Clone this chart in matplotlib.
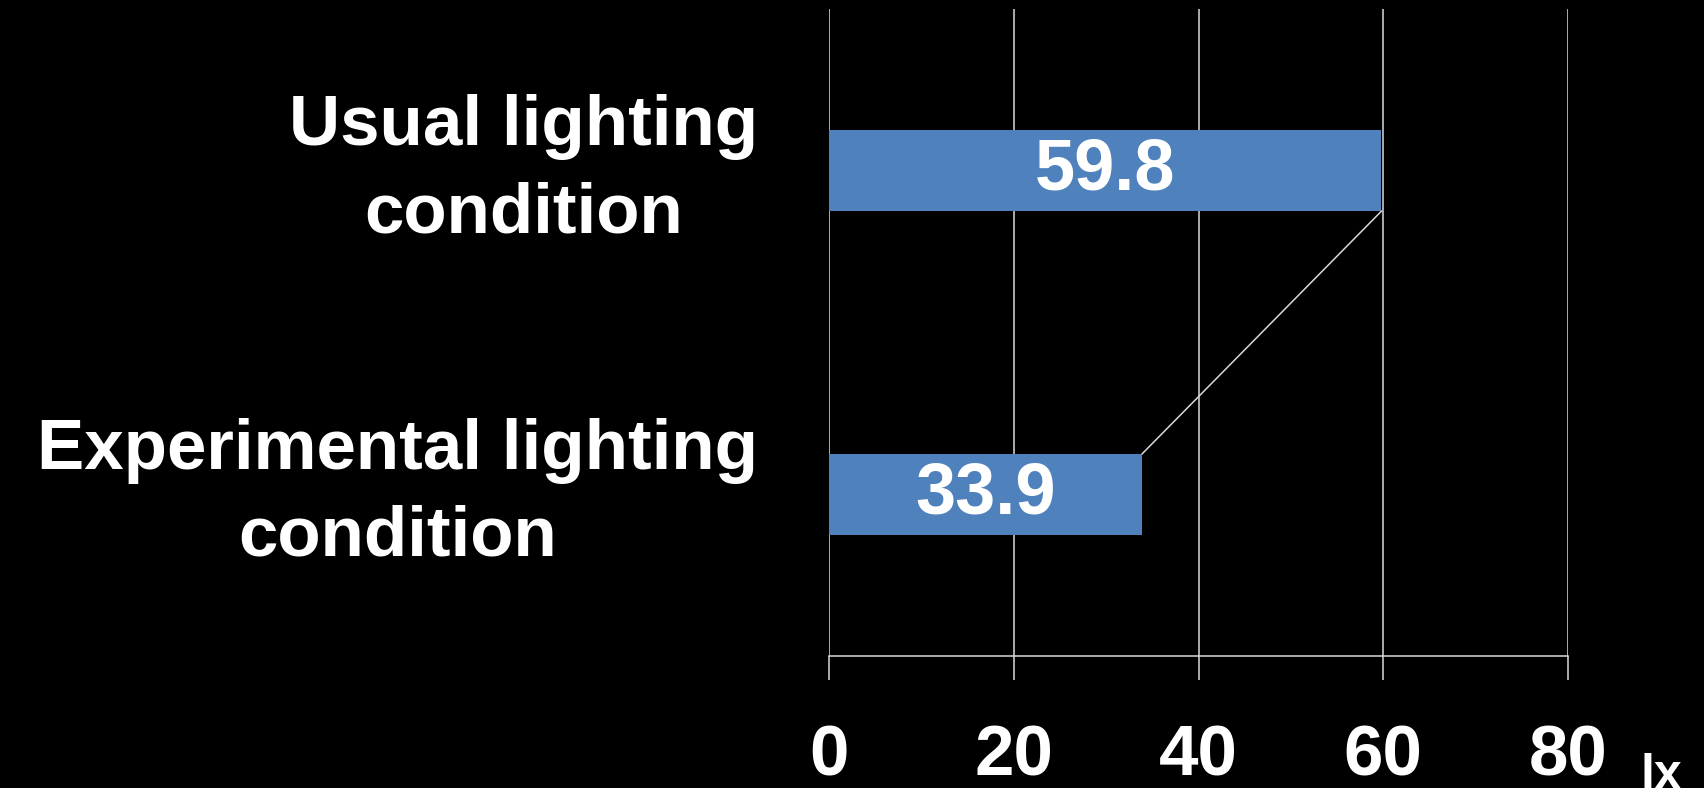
import matplotlib
matplotlib.use("Agg")
import matplotlib.pyplot as plt
import numpy as np

# Illuminance under the two lighting set-ups
conditions = ["Usual lighting\ncondition", "Experimental lighting\ncondition"]
lux = [59.8, 33.9]
value_labels = ["59.8", "33.9"]
x_ticks = [0, 20, 40, 60, 80]
x_tick_labels = ["0", "20", "40", "60", "80"]
unit = "lx"

bar_color = "#4F81BD"
line_color = "#D9D9D9"
bar_h = 0.25
fs = 51

plt.rcParams["font.family"] = ["Liberation Sans", "DejaVu Sans"]
plt.rcParams["font.weight"] = "bold"

fig = plt.figure(figsize=(17.04, 7.88), dpi=100, facecolor="black")
ax = fig.add_axes([0.4865, 0.1675, 0.4337, 0.8211])
ax.set_facecolor("black")

y = np.arange(len(conditions))
ax.barh(y, lux, height=bar_h, color=bar_color, zorder=2)

# series line joining the ends of the two bars
ax.plot([lux[0], lux[1]], [y[0] + bar_h / 2, y[1] - bar_h / 2],
        color=line_color, lw=1.1, zorder=3)

for yi, v, txt in zip(y, lux, value_labels):
    ax.text(v / 2, yi, txt, ha="center", va="center", color="white",
            fontsize=fs + 1, fontweight="bold", zorder=4)

ax.set_xlim(0, 80)
ax.set_ylim(1.5, -0.5)
ax.set_xticks(x_ticks)
ax.set_xticklabels(x_tick_labels, fontsize=fs, fontweight="bold", color="white")
ax.set_yticks(y)
ax.set_yticklabels(conditions, fontsize=fs, fontweight="bold", color="white")
for lab in ax.get_yticklabels():
    lab.set_multialignment("center")
    lab.set_verticalalignment("center")
    lab.set_linespacing(1.42)

ax.tick_params(axis="x", direction="out", length=17, width=1.1,
               color=line_color, pad=32)
ax.tick_params(axis="y", length=0, pad=51)

ax.grid(axis="x", color=line_color, lw=1.1)
ax.set_axisbelow(True)
for side in ["top", "right", "left"]:
    ax.spines[side].set_visible(False)
ax.spines["bottom"].set_color(line_color)
ax.spines["bottom"].set_linewidth(1.1)

fig.text(1641 / 1704, 1 - 753 / 788, unit, ha="left", va="top",
         color="white", fontsize=36, fontweight="bold")

fig.savefig("out.png", dpi=100, facecolor="black")
